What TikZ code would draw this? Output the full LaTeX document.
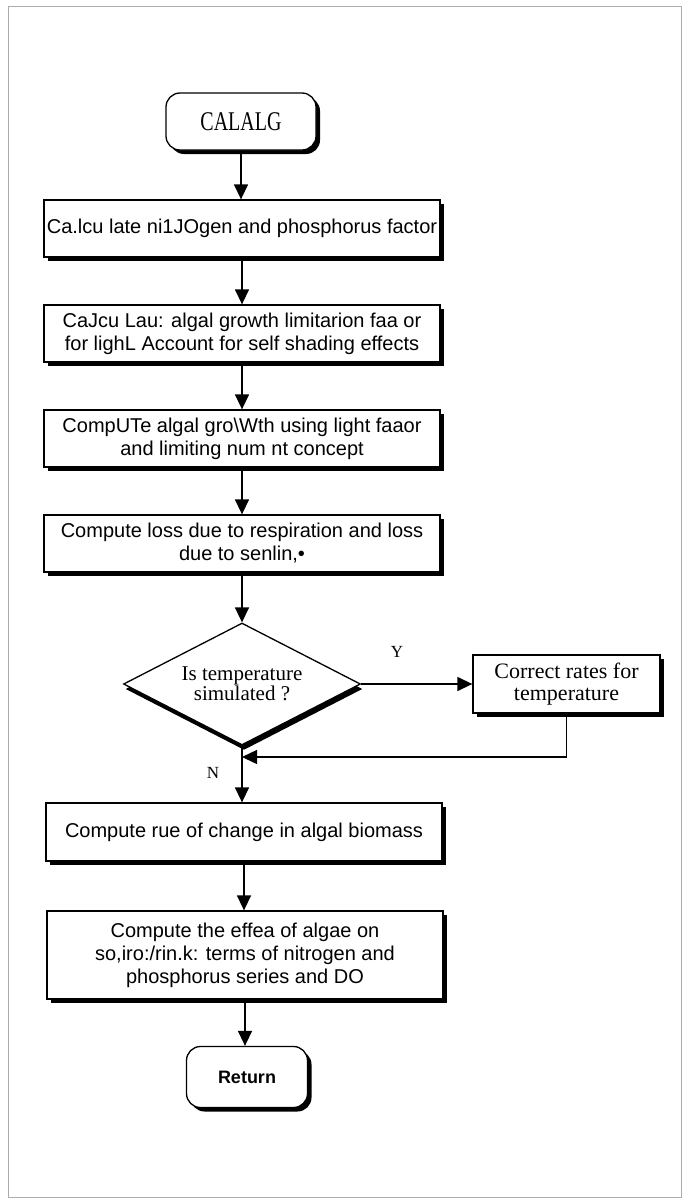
\documentclass[tikz,border=0pt]{standalone}
\usepackage{fontspec}
\setmainfont{Liberation Serif}
\newfontfamily\boxfont{Liberation Sans}
\usetikzlibrary{shapes.geometric,arrows.meta,shadows}

\tikzset{
  solid shade/.style={drop shadow={shadow xshift=4pt, shadow yshift=-4pt, fill=black, opacity=1}},
  procbox/.style={draw, line width=1.3pt, fill=white, solid shade,
    minimum width=396pt, minimum height=57pt, inner sep=0pt, align=center,
    font=\boxfont\fontsize{20}{23}\selectfont},
  termbox/.style={draw, line width=1.3pt, fill=white, solid shade,
    rounded corners=14pt, inner sep=0pt, align=center},
  decbox/.style={diamond, draw, line width=1.3pt, fill=white,
    drop shadow={shadow xshift=2pt, shadow yshift=-5pt, fill=black, opacity=1},
    minimum width=237pt, minimum height=122pt, aspect=1.94, inner sep=0pt, align=center,
    font=\fontsize{21}{20}\selectfont},
  sidebox/.style={draw, line width=1.3pt, fill=white, solid shade,
    minimum width=187pt, minimum height=58pt, inner sep=0pt, align=center,
    font=\fontsize{22}{22}\selectfont},
  flow/.style={line width=1.4pt, -{Triangle[length=15pt,width=14pt]}},
  branch/.style={font=\fontsize{17}{17}\selectfont, inner sep=0pt},
}

\begin{document}
\begin{tikzpicture}[x=1pt,y=-1pt]
  \useasboundingbox (0,0) rectangle (684,1199);
  % page frame
  \draw[gray!65, line width=1pt] (8,7) rectangle (681,1197);

  % start terminal
  \node[termbox, minimum width=150pt, minimum height=57pt] (start) at (241,121.5)
    {\fontsize{27}{27}\selectfont\scalebox{0.74}[1]{CALALG}};

  % processing steps
  \node[procbox] (nutr) at (242,228.5) {Ca.lcu late ni1JOgen and phosphorus factor};
  \node[procbox] (light) at (242,333.5) {CaJcu Lau: algal growth limitarion faa or\\for lighL Account for self shading effects};
  \node[procbox] (growth) at (242,438.5) {CompUTe algal gro\textbackslash Wth using light faaor\\and limiting num nt concept};
  \node[procbox] (loss) at (242,543.5) {Compute loss due to respiration and loss\\due to senlin,•};

  % temperature decision
  \node[decbox] (temp) at (242,684) {Is temperature\\simulated ?};
  \node[sidebox] (corr) at (566.5,684) {Correct rates for\\temperature};
  \node[branch] (ylab) at (397,652) {Y};
  \node[branch] (nlab) at (213,773) {N};
  \coordinate (merge) at (242,757);

  \node[procbox, minimum height=58pt] (rate) at (244,832) {Compute rue of change in algal biomass};
  \node[procbox, minimum height=88pt] (effect) at (245,955)
    {Compute the effea of algae on\\so,iro:/rin.k: terms of nitrogen and\\phosphorus series and DO};

  % end terminal
  \node[termbox, minimum width=121pt, minimum height=61pt] (ret) at (247,1077)
    {\boxfont\bfseries\fontsize{18}{18}\selectfont Return};

  % connectors
  \draw[flow] (start.south) -- (start.south |- nutr.north);
  \draw[flow] (nutr.south) -- (nutr.south |- light.north);
  \draw[flow] (light.south) -- (light.south |- growth.north);
  \draw[flow] (growth.south) -- (growth.south |- loss.north);
  \draw[flow] (loss.south) -- (loss.south |- temp.north);
  \draw[flow] (temp.east) -- (corr.west);
  \draw[flow] (corr.south) |- (merge);
  \draw[flow] (temp.south) -- (temp.south |- rate.north);
  \draw[flow] (rate.south) -- (rate.south |- effect.north);
  \draw[flow] (effect.south) -- (effect.south |- ret.north);
\end{tikzpicture}
\end{document}
